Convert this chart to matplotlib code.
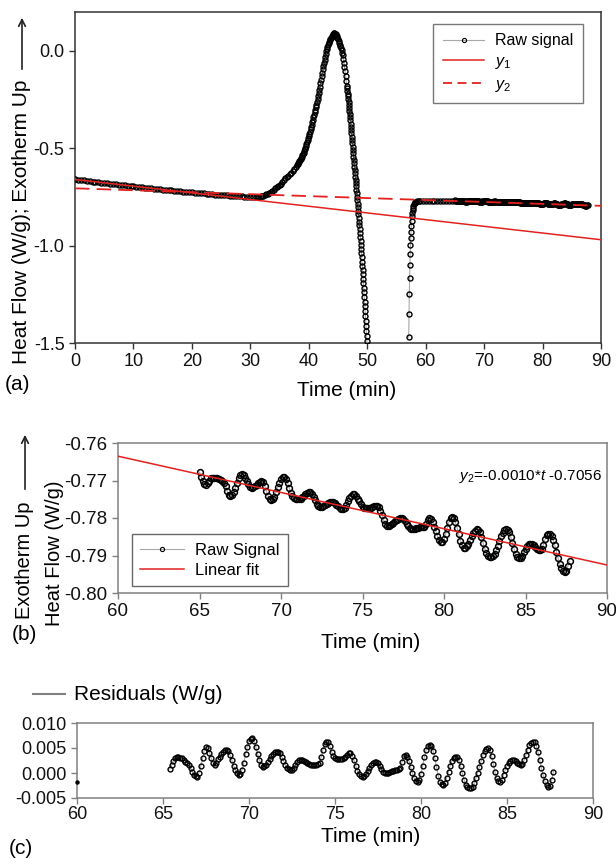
import numpy as np
import matplotlib
matplotlib.use("Agg")
import matplotlib.pyplot as plt
from matplotlib.lines import Line2D

plt.rcParams['font.family'] = ['Liberation Sans', 'DejaVu Sans']
plt.rcParams['axes.unicode_minus'] = False
plt.rcParams['mathtext.fontset'] = 'custom'
plt.rcParams['mathtext.rm'] = 'Liberation Sans'
plt.rcParams['mathtext.it'] = 'Liberation Sans:italic'

# ---------------- data: panel (a) raw DSC signal ----------------
t_base = [0.0, 0.5, 1.0, 1.5, 2.0, 2.5, 3.0, 3.5, 4.0, 4.5, 5.0, 5.5, 6.0, 6.5, 7.0, 7.5,
          8.0, 8.5, 9.0, 9.5, 10.0, 10.5, 11.0, 11.5, 12.0, 12.5, 13.0, 13.5, 14.0, 14.5,
          15.0, 15.5, 16.0, 16.5, 17.0, 17.5, 18.0, 18.5, 19.0, 19.5, 20.0, 20.5, 21.0,
          21.5, 22.0, 22.5, 23.0, 23.5, 24.0, 24.5, 25.0, 25.5, 26.0, 26.5, 27.0, 27.5,
          28.0, 28.5, 29.0, 29.5, 30.0, 30.5, 31.0]
hf_base = [-0.660, -0.662, -0.664, -0.665, -0.667, -0.669, -0.671, -0.673, -0.675, -0.676,
           -0.678, -0.680, -0.682, -0.683, -0.685, -0.687, -0.688, -0.690, -0.692, -0.693,
           -0.695, -0.697, -0.698, -0.700, -0.702, -0.703, -0.705, -0.707, -0.708, -0.710,
           -0.712, -0.713, -0.715, -0.716, -0.718, -0.719, -0.721, -0.722, -0.724, -0.725,
           -0.727, -0.728, -0.730, -0.731, -0.732, -0.734, -0.735, -0.736, -0.738, -0.739,
           -0.740, -0.741, -0.742, -0.743, -0.744, -0.745, -0.746, -0.747, -0.748, -0.749,
           -0.750, -0.750, -0.750]

t_rise = [31.25, 31.5, 31.75, 32.0, 32.25, 32.5, 32.75, 33.0, 33.25, 33.5, 33.75, 34.0,
          34.25, 34.5, 34.75, 35.0, 35.25, 35.5, 35.75, 36.0, 36.25, 36.5, 36.75, 37.0,
          37.25, 37.5, 37.75, 38.0, 38.1, 38.2, 38.3, 38.4, 38.5, 38.6, 38.7, 38.8, 38.9,
          39.0, 39.1, 39.2, 39.3, 39.4, 39.5, 39.6, 39.7, 39.8, 39.9, 40.0, 40.1, 40.2,
          40.3, 40.4, 40.5, 40.6, 40.7, 40.8, 40.9, 41.0, 41.1, 41.2, 41.3, 41.4, 41.5,
          41.6, 41.7, 41.8, 41.9, 42.0, 42.1, 42.2, 42.3, 42.4, 42.5, 42.6, 42.7, 42.8,
          42.9, 43.0, 43.1, 43.2, 43.3, 43.4, 43.5, 43.6, 43.7, 43.8, 43.9, 44.0, 44.1, 44.2]
hf_rise = [-0.749, -0.748, -0.747, -0.745, -0.743, -0.740, -0.737, -0.734, -0.730, -0.725,
           -0.719, -0.712, -0.706, -0.700, -0.694, -0.688, -0.681, -0.674, -0.664, -0.655,
           -0.648, -0.641, -0.633, -0.625, -0.616, -0.607, -0.598, -0.588, -0.583, -0.577,
           -0.572, -0.566, -0.560, -0.555, -0.549, -0.543, -0.536, -0.529, -0.522, -0.514,
           -0.506, -0.498, -0.490, -0.480, -0.469, -0.458, -0.447, -0.436, -0.425, -0.414,
           -0.402, -0.390, -0.378, -0.366, -0.354, -0.341, -0.329, -0.316, -0.303, -0.290,
           -0.276, -0.262, -0.248, -0.233, -0.217, -0.200, -0.183, -0.166, -0.148, -0.130,
           -0.112, -0.094, -0.077, -0.060, -0.044, -0.029, -0.015, -0.002, 0.010, 0.021,
           0.031, 0.040, 0.048, 0.055, 0.062, 0.068, 0.073, 0.078, 0.083, 0.087]

t_fall = [44.3, 44.4, 44.5, 44.6, 44.7, 44.8, 44.9, 45.0, 45.1, 45.2, 45.3, 45.4, 45.5,
          45.6, 45.7, 45.8, 45.9, 46.0, 46.1, 46.2, 46.3, 46.4, 46.5, 46.55, 46.6, 46.65,
          46.7, 46.75, 46.8, 46.85, 46.9, 46.95, 47.0, 47.05, 47.1, 47.15, 47.2, 47.25,
          47.3, 47.35, 47.4, 47.45, 47.5, 47.55, 47.6, 47.65, 47.7, 47.75, 47.8, 47.85,
          47.9, 47.95, 48.0, 48.05, 48.1, 48.15, 48.2, 48.25, 48.3, 48.35, 48.4, 48.45,
          48.5, 48.55, 48.6, 48.65, 48.7, 48.75, 48.8, 48.85, 48.9, 48.95, 49.0, 49.05,
          49.1, 49.15, 49.2, 49.25, 49.3, 49.35, 49.4, 49.45, 49.5, 49.55, 49.6, 49.65,
          49.7, 49.75, 49.8, 49.85, 49.9, 49.95, 50.0]
hf_fall = [0.090, 0.090, 0.088, 0.085, 0.081, 0.076, 0.069, 0.061, 0.052, 0.043, 0.033,
           0.023, 0.013, 0.003, -0.009, -0.023, -0.040, -0.060, -0.082, -0.105, -0.129,
           -0.153, -0.178, -0.191, -0.205, -0.219, -0.233, -0.247, -0.262, -0.277, -0.292,
           -0.307, -0.323, -0.339, -0.356, -0.373, -0.390, -0.407, -0.424, -0.441, -0.458,
           -0.475, -0.492, -0.509, -0.526, -0.543, -0.560, -0.577, -0.594, -0.611, -0.628,
           -0.645, -0.662, -0.679, -0.696, -0.713, -0.731, -0.748, -0.766, -0.784, -0.802,
           -0.820, -0.839, -0.858, -0.877, -0.896, -0.916, -0.936, -0.956, -0.976, -0.997,
           -1.018, -1.039, -1.060, -1.082, -1.104, -1.126, -1.148, -1.171, -1.194, -1.217,
           -1.240, -1.264, -1.288, -1.312, -1.336, -1.361, -1.386, -1.411, -1.436, -1.462,
           -1.488, -1.514]

t_recov = [57.10, 57.15, 57.20, 57.25, 57.30, 57.35, 57.40, 57.45, 57.50, 57.55, 57.60,
           57.65, 57.70, 57.75, 57.80, 57.9, 58.0, 58.1, 58.2, 58.4, 58.6, 58.8, 59.0,
           59.5, 60.0, 60.5, 61.0, 61.5, 62.0, 62.5, 63.0, 63.5, 64.0, 64.5]
hf_recov = [-1.470, -1.350, -1.250, -1.165, -1.100, -1.042, -0.996, -0.960, -0.928, -0.898,
            -0.872, -0.850, -0.833, -0.818, -0.806, -0.795, -0.787, -0.782, -0.778, -0.774,
            -0.772, -0.771, -0.770, -0.769, -0.770, -0.771, -0.770, -0.769, -0.771, -0.772,
            -0.770, -0.769, -0.771, -0.770]

# ---------------- data: panel (b) zoomed raw signal, 65.0-87.7 min every 0.1 min -----
t_zoom_start, t_zoom_step = 65.0, 0.1
hf_zoom = [
    -0.7678, -0.7690, -0.7702, -0.7709, -0.7711, -0.7707, -0.7700, -0.7694, -0.7692, -0.7692,
    -0.7693, -0.7694, -0.7695, -0.7698, -0.7702, -0.7706, -0.7716, -0.7729, -0.7738, -0.7742,
    -0.7739, -0.7731, -0.7719, -0.7706, -0.7694, -0.7686, -0.7683, -0.7685, -0.7692, -0.7701,
    -0.7710, -0.7717, -0.7719, -0.7718, -0.7715, -0.7711, -0.7706, -0.7703, -0.7702, -0.7705,
    -0.7715, -0.7728, -0.7740, -0.7750, -0.7753, -0.7750, -0.7743, -0.7731, -0.7718, -0.7706,
    -0.7696, -0.7691, -0.7691, -0.7696, -0.7706, -0.7719, -0.7732, -0.7742, -0.7747, -0.7748,
    -0.7749, -0.7749, -0.7748, -0.7745, -0.7741, -0.7737, -0.7733, -0.7731, -0.7731, -0.7735,
    -0.7743, -0.7753, -0.7762, -0.7769, -0.7771, -0.7770, -0.7768, -0.7765, -0.7762, -0.7759,
    -0.7757, -0.7757, -0.7758, -0.7761, -0.7765, -0.7769, -0.7773, -0.7775, -0.7775, -0.7772,
    -0.7765, -0.7756, -0.7747, -0.7740, -0.7737, -0.7737, -0.7741, -0.7748, -0.7756, -0.7764,
    -0.7770, -0.7773, -0.7774, -0.7774, -0.7774, -0.7773, -0.7771, -0.7769, -0.7768, -0.7768,
    -0.7771, -0.7780, -0.7793, -0.7806, -0.7815, -0.7820, -0.7821, -0.7819, -0.7816, -0.7812,
    -0.7808, -0.7805, -0.7802, -0.7801, -0.7801, -0.7803, -0.7808, -0.7815, -0.7822, -0.7827,
    -0.7829, -0.7829, -0.7828, -0.7827, -0.7826, -0.7825, -0.7825, -0.7824, -0.7823, -0.7817,
    -0.7806, -0.7801, -0.7804, -0.7811, -0.7823, -0.7836, -0.7848, -0.7858, -0.7863, -0.7863,
    -0.7856, -0.7843, -0.7826, -0.7811, -0.7800, -0.7797, -0.7801, -0.7811, -0.7826, -0.7843,
    -0.7860, -0.7873, -0.7879, -0.7879, -0.7876, -0.7869, -0.7859, -0.7849, -0.7840, -0.7834,
    -0.7830, -0.7831, -0.7838, -0.7851, -0.7867, -0.7882, -0.7894, -0.7901, -0.7904, -0.7904,
    -0.7902, -0.7896, -0.7886, -0.7874, -0.7861, -0.7849, -0.7839, -0.7833, -0.7830, -0.7831,
    -0.7838, -0.7851, -0.7867, -0.7883, -0.7896, -0.7904, -0.7907, -0.7906, -0.7900, -0.7891,
    -0.7882, -0.7874, -0.7869, -0.7868, -0.7868, -0.7872, -0.7878, -0.7883, -0.7886, -0.7886,
    -0.7882, -0.7871, -0.7857, -0.7846, -0.7842, -0.7843, -0.7848, -0.7858, -0.7873, -0.7890,
    -0.7908, -0.7922, -0.7934, -0.7941, -0.7944, -0.7941, -0.7928, -0.7915]

# ---------------- data: panel (c) residuals, 65.4-87.7 min every 0.1 min -------------
t_res_start, t_res_step = 65.4, 0.1
residuals = [
    0.0008, 0.0016, 0.0025, 0.0031, 0.0033, 0.0032, 0.0031, 0.0030, 0.0027, 0.0023,
    0.0020, 0.0016, 0.0010, 0.0003, -0.0003, -0.0006, -0.0007, 0.0001, 0.0014, 0.0030,
    0.0045, 0.0053, 0.0050, 0.0041, 0.0030, 0.0021, 0.0017, 0.0021, 0.0028, 0.0033,
    0.0038, 0.0043, 0.0046, 0.0047, 0.0044, 0.0036, 0.0026, 0.0015, 0.0006, 0.0000,
    -0.0003, -0.0002, 0.0007, 0.0021, 0.0038, 0.0053, 0.0064, 0.0069, 0.0070, 0.0064,
    0.0052, 0.0038, 0.0026, 0.0017, 0.0013, 0.0014, 0.0017, 0.0022, 0.0028, 0.0034,
    0.0039, 0.0042, 0.0043, 0.0043, 0.0040, 0.0033, 0.0025, 0.0017, 0.0011, 0.0008,
    0.0007, 0.0007, 0.0011, 0.0017, 0.0022, 0.0026, 0.0027, 0.0027, 0.0025, 0.0022,
    0.0020, 0.0018, 0.0017, 0.0017, 0.0017, 0.0017, 0.0018, 0.0020, 0.0032, 0.0047,
    0.0058, 0.0063, 0.0062, 0.0054, 0.0043, 0.0034, 0.0030, 0.0029, 0.0029, 0.0029,
    0.0029, 0.0030, 0.0033, 0.0037, 0.0040, 0.0040, 0.0035, 0.0026, 0.0015, 0.0005,
    -0.0002, -0.0006, -0.0007, -0.0006, -0.0002, 0.0004, 0.0010, 0.0016, 0.0020, 0.0023,
    0.0023, 0.0021, 0.0015, 0.0008, 0.0003, 0.0000, 0.0000, 0.0001, 0.0003, 0.0004,
    0.0005, 0.0006, 0.0007, 0.0009, 0.0010, 0.0022, 0.0034, 0.0037, 0.0033, 0.0024,
    0.0012, 0.0000, -0.0010, -0.0015, -0.0017, -0.0014, -0.0002, 0.0015, 0.0032, 0.0046,
    0.0054, 0.0057, 0.0055, 0.0045, 0.0030, 0.0012, -0.0005, -0.0017, -0.0022, -0.0023,
    -0.0019, -0.0009, 0.0003, 0.0015, 0.0025, 0.0031, 0.0033, 0.0033, 0.0026, 0.0014,
    0.0000, -0.0013, -0.0023, -0.0028, -0.0030, -0.0030, -0.0027, -0.0020, -0.0010, 0.0001,
    0.0013, 0.0024, 0.0036, 0.0044, 0.0049, 0.0050, 0.0046, 0.0035, 0.0019, 0.0002,
    -0.0010, -0.0016, -0.0017, -0.0013, -0.0003, 0.0007, 0.0015, 0.0021, 0.0025, 0.0027,
    0.0027, 0.0024, 0.0021, 0.0018, 0.0017, 0.0019, 0.0026, 0.0036, 0.0047, 0.0056,
    0.0061, 0.0063, 0.0062, 0.0055, 0.0042, 0.0026, 0.0010, -0.0004, -0.0016, -0.0024,
    -0.0027, -0.0026, -0.0014, 0.0003]
res_stray_t = [60.0]
res_stray_v = [-0.0018]

# baselines / fits
y1_coef = (-0.00344, -0.660)      # slope, intercept (panel a, solid)
y2_coef = (-0.0010, -0.7056)      # slope, intercept (panel a, dashed)
fit_coef = (-0.000967, -0.7055)   # linear fit drawn in panel b

# ---------------- figure ----------------
W, H = 616, 858
fig = plt.figure(figsize=(W / 100, H / 100), dpi=100)

def fx(x):
    return x / W

def fy(y):
    return 1 - y / H

RED = '#e3221f'
GRAYLINE = '#a8a8a8'

def style_axes(ax, spine_color, lw=1.0):
    for s in ax.spines.values():
        s.set_color(spine_color)
        s.set_linewidth(lw)
    ax.tick_params(direction='out', length=4, width=1.0, color=spine_color,
                   labelsize=13, labelcolor='#111111')

# ---- panel (a)
ax_a = fig.add_axes([fx(75), fy(343), 526 / W, 331 / H])
t_a = t_base + t_rise + t_fall + [np.nan] + t_recov
t_a = t_a + list(t_zoom_start + t_zoom_step * np.arange(len(hf_zoom)))
hf_a = hf_base + hf_rise + hf_fall + [np.nan] + hf_recov + hf_zoom
ax_a.plot(t_a, hf_a, color=GRAYLINE, lw=0.8, marker='o', ms=3.6, mfc='none',
          mec='black', mew=1.0, zorder=3)
tx = np.array([0.0, 90.0])
ax_a.plot(tx, y1_coef[0] * tx + y1_coef[1], color=RED, lw=1.1, zorder=4)
ax_a.plot(tx, y2_coef[0] * tx + y2_coef[1], color=RED, lw=1.3, dashes=(8, 4), zorder=4)
ax_a.set_xlim(0, 90)
ax_a.set_ylim(-1.5, 0.2)
ax_a.set_xticks(np.arange(0, 91, 10))
ax_a.set_yticks([-1.5, -1.0, -0.5, 0.0])
ax_a.set_yticklabels(['-1.5', '-1.0', '-0.5', '0.0'])
style_axes(ax_a, '#333333', 1.1)

h_raw = Line2D([], [], color=GRAYLINE, lw=0.8, marker='o', ms=3.0, mfc='none',
               mec='black', mew=0.8)
h_y1 = Line2D([], [], color=RED, lw=1.1)
h_y2 = Line2D([], [], color=RED, lw=1.3, dashes=(5, 3))
leg = ax_a.legend([h_raw, h_y1, h_y2], ['Raw signal', r'$y_1$', r'$y_2$'],
                  loc='upper left', bbox_to_anchor=(0.681, 0.964), fontsize=11.5,
                  frameon=True, fancybox=False, handlelength=2.6, numpoints=1,
                  borderpad=0.6, labelspacing=0.35, handletextpad=0.7, borderaxespad=0)
leg.get_frame().set_edgecolor('#555555')
leg.get_frame().set_linewidth(1.0)

fig.text(fx(347), fy(390), 'Time (min)', ha='center', va='center', fontsize=15)
fig.text(fx(22), fy(222), 'Heat Flow (W/g); Exotherm Up', rotation=90,
         ha='center', va='center', fontsize=15)
fig.add_artist(matplotlib.patches.FancyArrowPatch((fx(22), fy(72)), (fx(22), fy(15)),
               transform=fig.transFigure, arrowstyle='->', mutation_scale=12,
               lw=1.2, color='#222222'))
fig.text(fx(18), fy(385), '(a)', ha='center', va='center', fontsize=15)

# ---- panel (b)
ax_b = fig.add_axes([fx(118), fy(593), 489 / W, 150 / H])
t_b = t_zoom_start + t_zoom_step * np.arange(len(hf_zoom))
ax_b.plot(t_b, hf_zoom, color=GRAYLINE, lw=0.8, marker='o', ms=4.2, mfc='none',
          mec='black', mew=1.1, zorder=3)
tfx = np.array([60.0, 90.0])
ax_b.plot(tfx, fit_coef[0] * tfx + fit_coef[1], color=RED, lw=1.1, zorder=4)
ax_b.set_xlim(60, 90)
ax_b.set_ylim(-0.80, -0.76)
ax_b.set_xticks(np.arange(60, 91, 5))
ax_b.set_yticks([-0.80, -0.79, -0.78, -0.77, -0.76])
ax_b.set_yticklabels(['-0.80', '-0.79', '-0.78', '-0.77', '-0.76'])
style_axes(ax_b, '#808080', 1.1)
ax_b.tick_params(labelsize=13.5)
ax_b.text(89.7, -0.7689, r'$y_2$=-0.0010*$t$ -0.7056', ha='right', va='center',
          fontsize=11)
h_raw_b = Line2D([], [], color=GRAYLINE, lw=0.8, marker='o', ms=3.0, mfc='none',
                 mec='black', mew=0.8)
h_fit_b = Line2D([], [], color=RED, lw=1.1)
leg_b = ax_b.legend([h_raw_b, h_fit_b], ['Raw Signal', 'Linear fit'],
                    loc='lower left', bbox_to_anchor=(0.0286, 0.047), fontsize=12,
                    frameon=True, fancybox=False, handlelength=2.6, numpoints=1,
                    borderpad=0.5, labelspacing=0.3, handletextpad=0.7, borderaxespad=0)
leg_b.get_frame().set_edgecolor('#444444')
leg_b.get_frame().set_linewidth(1.0)

fig.text(fx(371), fy(643), 'Time (min)', ha='center', va='center', fontsize=15)
fig.text(fx(55), fy(553), 'Heat Flow (W/g)', rotation=90, ha='center', va='center',
         fontsize=14.5)
fig.text(fx(25), fy(560), 'Exotherm Up', rotation=90, ha='center', va='center',
         fontsize=14.5)
fig.add_artist(matplotlib.patches.FancyArrowPatch((fx(25), fy(492)), (fx(25), fy(432)),
               transform=fig.transFigure, arrowstyle='->', mutation_scale=12,
               lw=1.2, color='#222222'))
fig.text(fx(24), fy(634), '(b)', ha='center', va='center', fontsize=15)

# ---- panel (c)
ax_c = fig.add_axes([fx(77), fy(798), 516 / W, 75 / H])
t_c = t_res_start + t_res_step * np.arange(len(residuals))
ax_c.plot(t_c, residuals, color=GRAYLINE, lw=0.8, marker='o', ms=3.5, mfc='none',
          mec='black', mew=1.0, zorder=3)
ax_c.plot(res_stray_t, res_stray_v, 'o', color='black', ms=2.2, clip_on=False, zorder=5)
ax_c.set_xlim(60, 90)
ax_c.set_ylim(-0.005, 0.010)
ax_c.set_xticks(np.arange(60, 91, 5))
ax_c.set_yticks([-0.005, 0.0, 0.005, 0.010])
ax_c.set_yticklabels(['-0.005', '0.000', '0.005', '0.010'])
style_axes(ax_c, '#808080', 1.1)
ax_c.tick_params(axis='x', pad=1.5)

fig.add_artist(Line2D([fx(33), fx(65)], [fy(694), fy(694)], transform=fig.transFigure,
                      color='#808080', lw=1.5))
fig.text(fx(74), fy(694), 'Residuals (W/g)', ha='left', va='center', fontsize=15)
fig.text(fx(371), fy(836), 'Time (min)', ha='center', va='center', fontsize=15)
fig.text(fx(21), fy(849), '(c)', ha='center', va='center', fontsize=15)

fig.savefig('out.png', dpi=100)
